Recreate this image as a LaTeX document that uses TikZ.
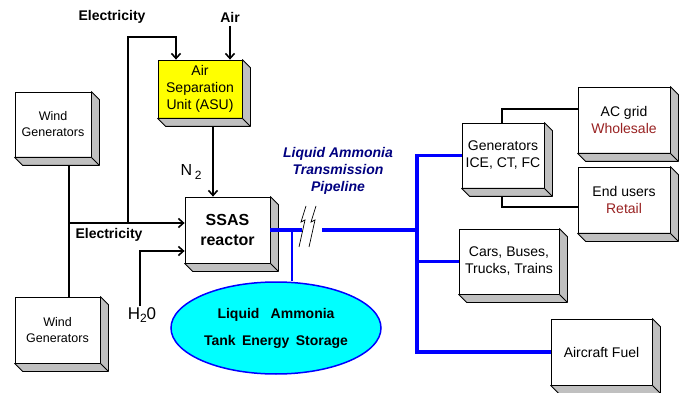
\documentclass[tikz,border=0pt]{standalone}
\usepackage{fontspec}
\setmainfont{Liberation Sans}
\usetikzlibrary{arrows.meta,shapes.geometric}
\definecolor{sideGray}{HTML}{C0C0C0}
\definecolor{pipeBlue}{HTML}{0000FF}
\definecolor{tankCyan}{HTML}{00FFFF}
\definecolor{asuYellow}{HTML}{FFFF00}
\definecolor{labelNavy}{HTML}{000080}
\definecolor{marketRed}{HTML}{992222}

% grey side and bottom faces of a box
\newcommand{\boxdepth}[1]{%
  \draw[side] (#1.north east) -- ++(8,8) -- ([shift={(8,8)}]#1.south east)
    -- ([shift={(8,8)}]#1.south west) -- (#1.south west) -- (#1.south east) -- cycle;
  \draw[side] (#1.south east) -- ++(8,8);}

\begin{document}
\begin{tikzpicture}[x=1pt, y=-1pt,
        box/.style={rectangle, draw, fill=white, line width=0.8pt, inner sep=0pt, align=center, font=\fontsize{14}{17}\selectfont},
        side/.style={draw, fill=sideGray, line width=0.8pt, line join=round},
        line/.style={line width=1.6pt},
        arrow/.style={-{Straight Barb[length=5pt,width=9pt]}, line width=1.6pt},
        pipe/.style={line width=3.5pt, draw=pipeBlue},
        lbl/.style={font=\bfseries\fontsize{14}{17}\selectfont}
      ]
        \useasboundingbox (0,0) rectangle (686,393);
        \node[box, minimum width=76, minimum height=65, font=\fontsize{12.5}{16}\selectfont] (wind1) at (53,124.5) {Wind\\Generators};
        \node[box, minimum width=85, minimum height=66, font=\fontsize{12.5}{16}\selectfont] (wind2) at (57.5,330) {Wind\\Generators};
        \node[box, fill=asuYellow, minimum width=84, minimum height=58] (asu) at (200,89) {Air\\Separation\\Unit (ASU)};
        \node[box, minimum width=85, minimum height=66, font=\bfseries\fontsize{16}{20}\selectfont] (ssas) at (227.5,230) {SSAS\\reactor};
        \node[box, minimum width=82, minimum height=65] (gen) at (503,155.5) {Generators\\ICE, CT, FC};
        \node[box, minimum width=92, minimum height=66] (acgrid) at (624,120) {AC grid\\\textcolor{marketRed}{Wholesale}};
        \node[box, minimum width=92, minimum height=66] (endusers) at (624,200) {End users\\\textcolor{marketRed}{Retail}};
        \node[box, minimum width=100, minimum height=65] (cars) at (509,261.5) {Cars, Buses,\\Trucks, Trains};
        \node[box, minimum width=101, minimum height=66] (aircraft) at (601.5,352) {Aircraft Fuel};
        \node[ellipse, draw=pipeBlue, line width=1.5pt, fill=tankCyan, minimum width=210, minimum height=92, inner sep=0pt, align=center,
          font=\bfseries\fontsize{14}{27}\selectfont] (tank) at (276,328) {Liquid\hspace{0.8em}Ammonia\\Tank\hspace{0.45em}Energy\hspace{0.45em}Storage};

        \node[lbl] (elec1) at (112,17) {Electricity};
        \node[lbl] (airin) at (230,17) {Air};
        \node[lbl] (elec2) at (109,235) {Electricity};
        \node[font=\fontsize{16}{18}\selectfont] (n2) at (191,172) {N\,\raisebox{-0.4ex}{\fontsize{12}{12}\selectfont 2}};
        \node[font=\fontsize{17}{18}\selectfont, inner sep=1pt] (h2o) at (142,315) {H\raisebox{-0.4ex}{\fontsize{12}{12}\selectfont 2}0};
        \node[font=\bfseries\itshape\fontsize{14}{17}\selectfont, text=labelNavy, align=center] (pipelbl) at (338,171) {Liquid Ammonia\\Transmission\\Pipeline};

        \coordinate (wbus) at (69,223);
        \coordinate (ebus) at (128,223);
        \coordinate (tap) at (292,230);
        \coordinate (brk1) at (302,230);
        \coordinate (brk2) at (322,230);
        \coordinate (hub) at (417,230);

        \draw[line] (wind1.south -| wbus) -- (wind2.north -| wbus);
        \draw[arrow] (wbus) -- (ssas.west |- wbus);
        \draw[arrow] (ebus) -- ++(0,-186) -| ([xshift=-24]asu.north);
        \draw[arrow] (airin.south) -- (airin.south |- asu.north);
        \draw[arrow] ([xshift=13]asu.south) coordinate (n2top) -- (n2top |- ssas.north);
        \draw[arrow] ([xshift=-2]h2o.north) |- ([yshift=-21]ssas.west);
        \draw[line, line width=1.2pt] ([xshift=-1]gen.north) |- ([yshift=11]acgrid.west);
        \draw[line, line width=1.2pt] ([xshift=-1]gen.south) |- ([yshift=-7]endusers.west);

        \foreach \n in {wind1,wind2,asu,ssas,gen,acgrid,endusers,cars,aircraft}
          \boxdepth{\n};

        \draw[pipe] (ssas.east) -- (brk1);
        \draw[pipe] (brk2) -- (hub);
        \draw[pipe, line width=1.6pt] (tap) -- (tap |- tank.north);
        \draw[pipe] (gen.west) -| (hub |- aircraft.west) -- (aircraft.west);
        \draw[pipe] (hub |- cars.west) -- (cars.west);
        \foreach \dx in {0,10}
          \draw[line width=0.7pt] ([xshift=\dx]brk1) ++(4,-24) -- ++(-5,16) -- ++(4,-2) -- ++(-6,27);
      \end{tikzpicture}
\end{document}
